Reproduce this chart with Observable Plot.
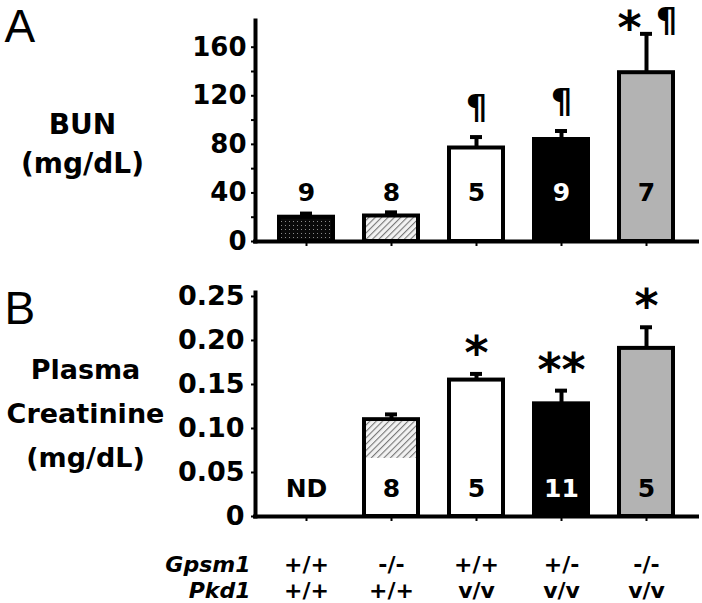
<!DOCTYPE html>
<html><head><meta charset="utf-8">
<script src="https://cdn.jsdelivr.net/npm/d3@7"></script>
<script src="https://cdn.jsdelivr.net/npm/@observablehq/plot@0.6"></script>
<style>
body{margin:0;background:#fff;}
#chart svg{display:block;}
</style></head><body>
<svg width="0" height="0" style="position:absolute">
<defs>
<pattern id="dots" width="4" height="4" patternUnits="userSpaceOnUse">
<rect width="4" height="4" fill="#0a0a0a"/>
<rect x="1" y="1" width="1" height="1" fill="#8c8c8c"/>
</pattern>
<pattern id="hatch" width="4.5" height="4.5" patternUnits="userSpaceOnUse" patternTransform="rotate(45)">
<rect width="4.5" height="4.5" fill="#f2f2f2"/>
<line x1="0" y1="0" x2="0" y2="4.5" stroke="#777" stroke-width="2.2"/>
</pattern>
</defs></svg>
<div id="chart"></div>
<script>
// ---- data ----
const gpsm1 = ["+/+", "-/-", "+/+", "+/-", "-/-"];
const pkd1 = ["+/+", "+/+", "v/v", "v/v", "v/v"];
const groups = gpsm1.map((g, i) => g + " " + pkd1[i]);
const fillsA = ["url(#dots)", "url(#hatch)", "#ffffff", "#000000", "#b3b3b3"];
const fillsB = ["#ffffff", "#ffffff", "#ffffff", "#000000", "#b3b3b3"];

const bunMean = [20, 21, 77, 84, 139];
const bunSEM = [3, 3, 9, 7, 32];
const bunN = ["9", "8", "5", "9", "7"];
const bunStar = ["", "", "", "", "*"];
const bunPara = ["", "", "¶", "¶", "¶"];
const bunTicks = [0, 20, 40, 60, 80, 100, 120, 140, 160];

const creatMean = [null, 0.110, 0.155, 0.128, 0.191];
const creatSEM = [null, 0.006, 0.007, 0.015, 0.024];
const creatHatchLow = [null, 0.066, null, null, null];
const creatN = ["ND", "8", "5", "11", "5"];
const creatStar = ["", "", "*", "**", "*"];
const creatTicks = [0, 0.05, 0.10, 0.15, 0.20, 0.25];

// ---- tables ----
const A = groups.map((g, i) => ({g, v: bunMean[i], hi: bunMean[i] + bunSEM[i], fill: fillsA[i],
  n: bunN[i], star: bunStar[i], para: bunPara[i]}));
const B = groups.map((g, i) => ({g, v: creatMean[i], hi: creatMean[i] == null ? null : creatMean[i] + creatSEM[i],
  lo: creatHatchLow[i], fill: fillsB[i], n: creatN[i], star: creatStar[i], gp: gpsm1[i], pk: pkd1[i]}));

const FONT = "DejaVu Sans";
const xOpts = {type: "band", domain: groups, paddingInner: 0.36, paddingOuter: 0.25};
const W = 702;

const plotA = Plot.plot({
  width: W, height: 262,
  marginLeft: 255, marginRight: 5, marginTop: 20, marginBottom: 21,
  style: {fontFamily: FONT, fontWeight: "bold", background: "#fff", overflow: "visible"},
  x: xOpts,
  y: {domain: [0, 182]},
  color: {type: "identity"},
  marks: [
    Plot.axisY({ticks: bunTicks, tickSize: 4, tickPadding: 5, strokeWidth: 2, fontSize: 26,
      tickFormat: d => d % 40 === 0 ? String(d) : "", label: null}),
    Plot.axisX({tickSize: 5, strokeWidth: 2, fill: "none", label: null}),
    Plot.barY(A, {x: "g", y: "v", fill: "fill", stroke: "black", strokeWidth: 4}),
    Plot.ruleX(A, {x: "g", y1: "v", y2: "hi", strokeWidth: 4}),
    Plot.tickY(A, {x: "g", y: "hi", strokeWidth: 4, inset: 21}),
    Plot.frame({anchor: "left", strokeWidth: 4, strokeLinecap: "square"}),
    Plot.ruleY([0], {strokeWidth: 4, strokeLinecap: "square"}),
    Plot.text(A, {x: "g", frameAnchor: "bottom", dy: -49, lineAnchor: "middle", text: "n", fontSize: 25,
      fill: d => d.fill === "#000000" ? "#ffffff" : "#000000"}),
    Plot.text(A.filter(d => d.para && !d.star), {x: "g", y: "hi", text: "para", fontSize: 34,
      lineAnchor: "bottom", dy: -18}),
    Plot.text(A.filter(d => d.para && d.star), {x: "g", y: "hi", text: "para", fontSize: 34,
      lineAnchor: "bottom", dx: 20, dy: -2}),
    Plot.text(A.filter(d => d.star), {x: "g", y: "hi", text: "star", fontSize: 46,
      lineAnchor: "bottom", dx: -17, dy: 10}),
    Plot.text(["A"], {frameAnchor: "top-left", dx: -251, dy: -11, textAnchor: "start", lineAnchor: "top",
      fontSize: 46, fontWeight: "normal", fontFamily: "Liberation Sans"}),
    Plot.text(["BUN\n(mg/dL)"], {frameAnchor: "left", dx: -173, dy: 10, textAnchor: "middle",
      lineAnchor: "middle", lineHeight: 1.4, fontSize: 28})
  ]
});

const plotB = Plot.plot({
  width: W, height: 341,
  marginLeft: 255, marginRight: 5, marginTop: 30, marginBottom: 87,
  style: {fontFamily: FONT, fontWeight: "bold", background: "#fff", overflow: "visible"},
  x: xOpts,
  y: {domain: [0, 0.2545]},
  color: {type: "identity"},
  marks: [
    Plot.axisY({ticks: creatTicks, tickSize: 4, tickPadding: 7, strokeWidth: 2, fontSize: 27,
      tickFormat: d => d === 0 ? "0" : d.toFixed(2), label: null}),
    Plot.axisX({tickSize: 5, strokeWidth: 2, fill: "none", label: null}),
    Plot.barY(B.filter(d => d.v != null), {x: "g", y: "v", fill: "fill", stroke: "black", strokeWidth: 4}),
    Plot.barY(B.filter(d => d.lo != null), {x: "g", y1: "lo", y2: "v", fill: () => "url(#hatch)",
      insetLeft: 2, insetRight: 2, insetTop: 2}),
    Plot.ruleX(B.filter(d => d.v != null), {x: "g", y1: "v", y2: "hi", strokeWidth: 4}),
    Plot.tickY(B.filter(d => d.v != null), {x: "g", y: "hi", strokeWidth: 4, inset: 21}),
    Plot.frame({anchor: "left", strokeWidth: 4, strokeLinecap: "square"}),
    Plot.ruleY([0], {strokeWidth: 4, strokeLinecap: "square"}),
    Plot.text(B, {x: "g", frameAnchor: "bottom", dy: -28, lineAnchor: "middle", text: "n", fontSize: 25,
      fill: d => d.fill === "#000000" ? "#ffffff" : "#000000"}),
    Plot.text(B.filter(d => d.star), {x: "g", y: "hi", text: "star", fontSize: 46,
      lineAnchor: "bottom", dy: -5}),
    Plot.text(B, {x: "g", frameAnchor: "bottom", dy: 37, lineAnchor: "top", lineHeight: 1.18,
      text: d => d.gp + "\n" + d.pk, fontSize: 22}),
    Plot.text(["Gpsm1\nPkd1"], {frameAnchor: "bottom-left", dx: -5, dy: 37, textAnchor: "end",
      lineAnchor: "top", lineHeight: 1.18, fontSize: 22, fontStyle: "italic"}),
    Plot.text(["B"], {frameAnchor: "top-left", dx: -251, dy: -1, textAnchor: "start", lineAnchor: "top",
      fontSize: 46, fontWeight: "normal", fontFamily: "Liberation Sans"}),
    Plot.text(["Plasma\nCreatinine\n(mg/dL)"], {frameAnchor: "left", dx: -170, dy: 4, textAnchor: "middle",
      lineAnchor: "middle", lineHeight: 1.63, fontSize: 27})
  ]
});

const chart = document.getElementById("chart");
chart.appendChild(plotA);
chart.appendChild(plotB);
</script>
</body></html>
